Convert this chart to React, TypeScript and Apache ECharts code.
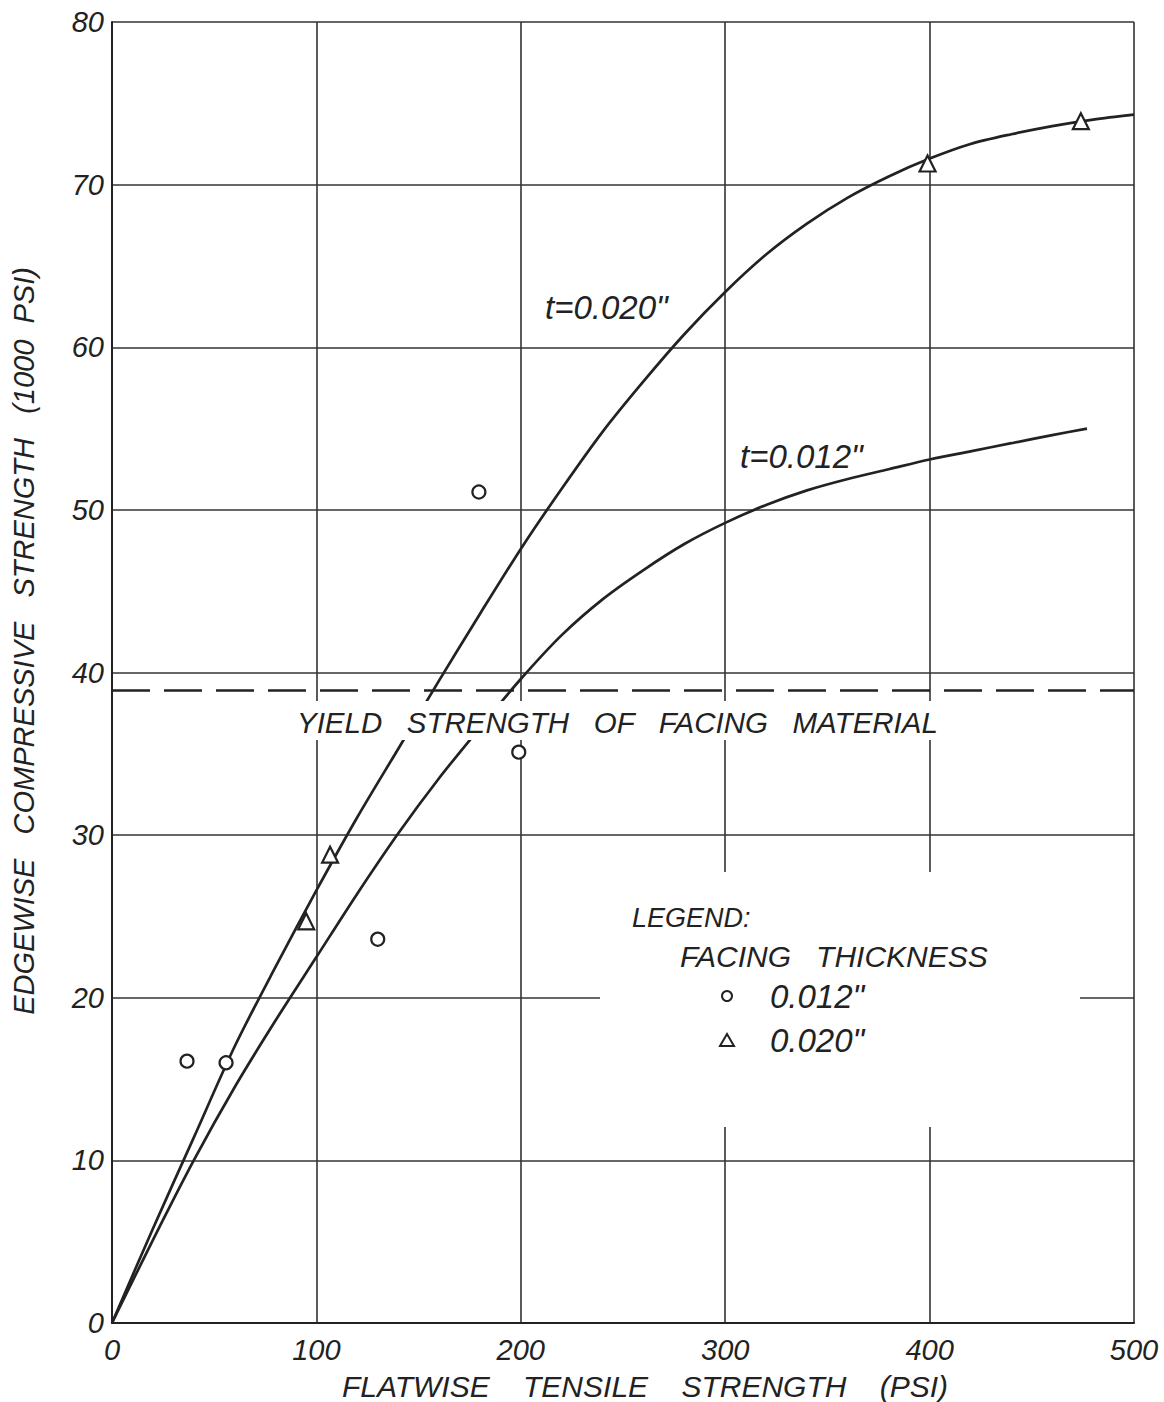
import React, { useEffect, useRef } from "react";
import * as echarts from "echarts";

// Axis ranges / ticks
const xMin = 0;
const xMax = 500;
const xStep = 100;
const yMin = 0;
const yMax = 80;
const yStep = 10;

// Fitted curves
const curve020: number[][] = [
  [0, 0], [20, 5.8], [40, 11.4], [60, 17.0], [80, 21.9], [100, 26.6],
  [120, 31.1], [140, 35.3], [160, 39.5], [180, 43.6], [200, 47.6],
  [220, 51.3], [240, 54.8], [260, 57.9], [280, 60.8], [300, 63.4],
  [320, 65.7], [340, 67.6], [360, 69.2], [380, 70.5], [400, 71.6],
  [420, 72.5], [440, 73.1], [460, 73.6], [480, 74.0], [500, 74.3],
];
const curve012: number[][] = [
  [0, 0], [20, 5.1], [40, 10.0], [60, 14.5], [80, 18.6], [100, 22.5],
  [120, 26.4], [140, 30.1], [160, 33.5], [180, 36.6], [200, 39.6],
  [220, 42.3], [240, 44.5], [260, 46.3], [280, 47.9], [300, 49.2],
  [320, 50.3], [340, 51.2], [360, 51.9], [380, 52.5], [400, 53.1],
  [420, 53.6], [440, 54.1], [460, 54.6], [477, 55.0],
];

// Test points
const points012: number[][] = [
  [36.7, 16.1], [55.8, 16.0], [130, 23.6], [179.5, 51.1], [199, 35.1],
];
const points020: number[][] = [
  [95, 24.7], [106.7, 28.8], [399, 71.3], [474, 73.9],
];

// Yield strength of facing material (1000 psi)
const yieldStrength = 38.9;

// Texts
const xName = "FLATWISE    TENSILE    STRENGTH    (PSI)";
const yName = "EDGEWISE   COMPRESSIVE   STRENGTH   (1000  PSI)";
const yieldLabel = "YIELD   STRENGTH   OF   FACING   MATERIAL";
const label020 = "t=0.020\"";
const label012 = "t=0.012\"";
const legendTitle = "LEGEND:";
const legendSub = "FACING   THICKNESS";
const legendNames = ["0.012\"", "0.020\""];

const INK = "#222";
const FONT = "Liberation Sans";

export default function App() {
  const ref = useRef<HTMLDivElement>(null);
  useEffect(() => {
    const chart = echarts.init(ref.current!, null, { renderer: "svg" });
    const txt = (text: string, x: number, y: number, size: number, extra: any = {}) => ({
      type: "text",
      x,
      y,
      z: 110,
      style: {
        text,
        fill: INK,
        font: `italic ${size}px "${FONT}"`,
        textAlign: "left",
        textVerticalAlign: "middle",
      },
      ...extra,
    });
    const option: any = {
      animation: false,
      backgroundColor: "#fff",
      grid: { left: 112, top: 22, width: 1022, height: 1301, containLabel: false },
      xAxis: {
        type: "value",
        min: xMin,
        max: xMax,
        interval: xStep,
        axisLine: { show: true, lineStyle: { color: INK, width: 2 } },
        axisTick: { show: false },
        splitLine: { show: true, lineStyle: { color: "#333", width: 1.6 } },
        axisLabel: {
          margin: 12,
          color: INK,
          fontSize: 29,
          fontStyle: "italic",
          fontFamily: FONT,
        },
      },
      yAxis: {
        type: "value",
        min: yMin,
        max: yMax,
        interval: yStep,
        axisLine: { show: true, lineStyle: { color: INK, width: 2 } },
        axisTick: { show: false },
        splitLine: { show: true, lineStyle: { color: "#333", width: 1.6 } },
        axisLabel: {
          margin: 8,
          color: INK,
          fontSize: 29,
          fontStyle: "italic",
          fontFamily: FONT,
        },
      },
      series: [
        {
          name: "t=0.020",
          type: "line",
          data: curve020,
          smooth: 0.3,
          showSymbol: false,
          lineStyle: { color: INK, width: 2.7 },
          z: 3,
          markLine: {
            silent: true,
            symbol: "none",
            label: { show: false },
            lineStyle: { color: INK, width: 2.5, type: [38, 14] },
            data: [{ yAxis: yieldStrength }],
          },
        },
        {
          name: "t=0.012",
          type: "line",
          data: curve012,
          smooth: 0.3,
          showSymbol: false,
          lineStyle: { color: INK, width: 2.7 },
          z: 3,
        },
        {
          name: legendNames[0],
          type: "scatter",
          data: points012,
          symbol: "circle",
          symbolSize: 13,
          itemStyle: { color: "#fff", borderColor: INK, borderWidth: 2.2, opacity: 1 },
          z: 4,
        },
        {
          name: legendNames[1],
          type: "scatter",
          data: points020,
          symbol: "triangle",
          symbolSize: 16,
          itemStyle: { color: "#fff", borderColor: INK, borderWidth: 2.2, opacity: 1 },
          z: 4,
        },
      ],
      graphic: [
        // white cut-out behind yield label
        { type: "rect", z: 100, shape: { x: 290, y: 701, width: 655, height: 39 }, style: { fill: "#fff" } },
        txt(yieldLabel, 297, 722, 29.5),
        // white cut-out behind legend
        { type: "rect", z: 100, shape: { x: 600, y: 872, width: 480, height: 255 }, style: { fill: "#fff" } },
        txt(legendTitle, 632, 918, 27),
        txt(legendSub, 680, 956, 30),
        {
          type: "circle",
          z: 110,
          shape: { cx: 727, cy: 996, r: 5 },
          style: { fill: "#fff", stroke: INK, lineWidth: 2 },
        },
        txt(legendNames[0], 770, 996, 33),
        {
          type: "polygon",
          z: 110,
          shape: { points: [[720, 1046], [734, 1046], [727, 1034]] },
          style: { fill: "#fff", stroke: INK, lineWidth: 2 },
        },
        txt(legendNames[1], 770, 1040, 33),
        // curve labels
        txt(label020, 545, 307, 33),
        txt(label012, 740, 456, 33),
        // axis names
        {
          type: "text",
          z: 110,
          x: 645,
          y: 1386,
          style: {
            text: xName,
            fill: INK,
            font: `italic 30px "${FONT}"`,
            textAlign: "center",
            textVerticalAlign: "middle",
          },
        },
        {
          type: "text",
          z: 110,
          x: 24,
          y: 641,
          rotation: Math.PI / 2,
          style: {
            text: yName,
            fill: INK,
            font: `italic 29px "${FONT}"`,
            textAlign: "center",
            textVerticalAlign: "middle",
          },
        },
      ],
    };
    chart.setOption(option);
    return () => chart.dispose();
  }, []);
  return (
    <div
      ref={ref}
      style={{ position: "absolute", left: 0, top: 0, width: 1164, height: 1402, background: "#fff" }}
    />
  );
}
